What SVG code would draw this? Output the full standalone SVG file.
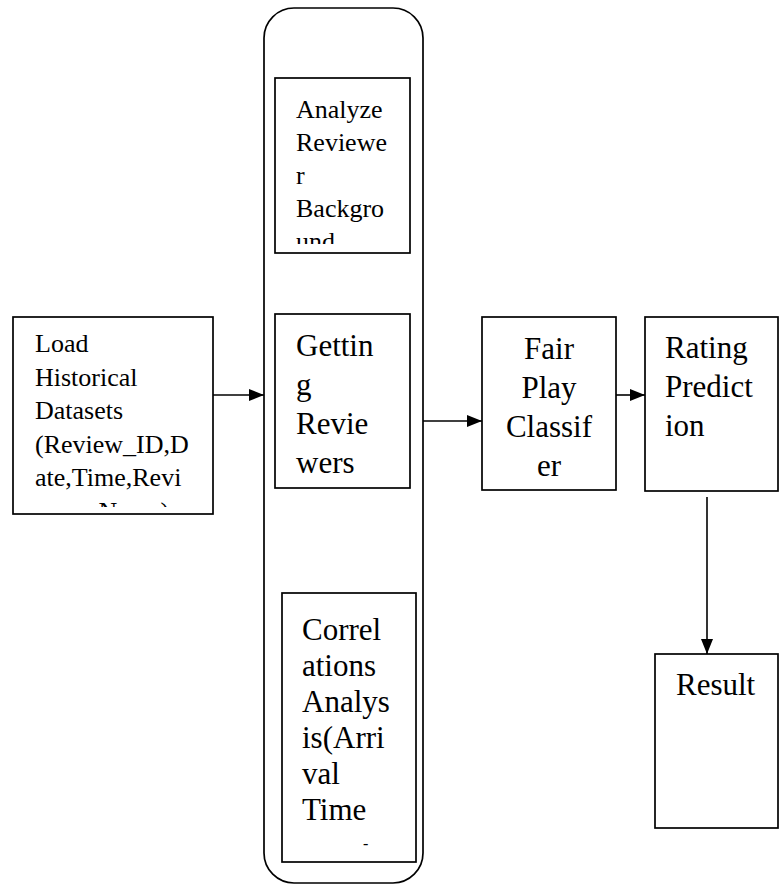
<svg xmlns="http://www.w3.org/2000/svg" width="779" height="885" viewBox="0 0 779 885">
<style>
.box{fill:#fff;stroke:#000;stroke-width:1.7}
.t{font-family:"Liberation Serif","Times New Roman",serif;fill:#000}
.s{font-size:26px}
.l{font-size:31px}
.c{text-anchor:middle}
.conn{stroke:#000;stroke-width:1.6;fill:none}
</style>
<defs>
<marker id="ah" markerWidth="15" markerHeight="12" refX="15" refY="6" orient="auto" markerUnits="userSpaceOnUse">
<path d="M0,0 L15,6 L0,12 Z" fill="#000"/>
</marker>
<clipPath id="cLoad"><rect x="14" y="318" width="198" height="189"/></clipPath>
<clipPath id="cAna"><rect x="276" y="79" width="133" height="165"/></clipPath>
<clipPath id="cCor"><rect x="283" y="594" width="132" height="264"/></clipPath>
</defs>
<g id="container">
<rect class="box" x="264" y="8" width="159" height="875" rx="30" ry="30"/>
</g>
<g id="load">
<rect class="box" x="13" y="317" width="200" height="197"/>
<g clip-path="url(#cLoad)">
<text class="t s" x="35" y="352">Load</text>
<text class="t s" x="35" y="385.5">Historical</text>
<text class="t s" x="35" y="419">Datasets</text>
<text class="t s" x="35" y="452.5">(Review_ID,D</text>
<text class="t s" x="35" y="486">ate,Time,Revi</text>
<text class="t s" x="35" y="519.5">ewer_Name)</text>
</g>
</g>
<g id="analyze">
<rect class="box" x="275" y="78" width="135" height="175"/>
<g clip-path="url(#cAna)">
<text class="t s" x="296" y="118">Analyze</text>
<text class="t s" x="296" y="151">Reviewe</text>
<text class="t s" x="296" y="184">r</text>
<text class="t s" x="296" y="217">Backgro</text>
<text class="t s" x="296" y="250">und</text>
</g>
</g>
<g id="getting">
<rect class="box" x="275" y="314" width="135" height="174"/>
<text class="t l" x="296" y="356">Gettin</text>
<text class="t l" x="296" y="395">g</text>
<text class="t l" x="296" y="434">Revie</text>
<text class="t l" x="296" y="473">wers</text>
</g>
<g id="correlations">
<rect class="box" x="282" y="593" width="134" height="269"/>
<g clip-path="url(#cCor)">
<text class="t l" x="302" y="640">Correl</text>
<text class="t l" x="302" y="676">ations</text>
<text class="t l" x="302" y="712">Analys</text>
<text class="t l" x="302" y="748">is(Arri</text>
<text class="t l" x="302" y="784">val</text>
<text class="t l" x="302" y="820">Time</text>
</g>
<text class="t" font-size="16" x="363" y="849">-</text>
</g>
<g id="fairplay">
<rect class="box" x="482" y="317" width="134" height="173"/>
<text class="t l c" x="549" y="359">Fair</text>
<text class="t l c" x="549" y="398">Play</text>
<text class="t l c" x="549" y="437">Classif</text>
<text class="t l c" x="549" y="476">er</text>
</g>
<g id="rating">
<rect class="box" x="645" y="317" width="133" height="174"/>
<text class="t l" x="665" y="358">Rating</text>
<text class="t l" x="665" y="397">Predict</text>
<text class="t l" x="665" y="436">ion</text>
</g>
<g id="result">
<rect class="box" x="655" y="654" width="123" height="174"/>
<text class="t l" x="676" y="695">Result</text>
</g>
<g id="connectors">
<line class="conn" x1="213" y1="395" x2="264" y2="395" marker-end="url(#ah)"/>
<line class="conn" x1="423" y1="421" x2="482" y2="421" marker-end="url(#ah)"/>
<line class="conn" x1="616" y1="395" x2="645" y2="395" marker-end="url(#ah)"/>
<line class="conn" x1="707" y1="497" x2="707" y2="654" marker-end="url(#ah)"/>
</g>
</svg>
